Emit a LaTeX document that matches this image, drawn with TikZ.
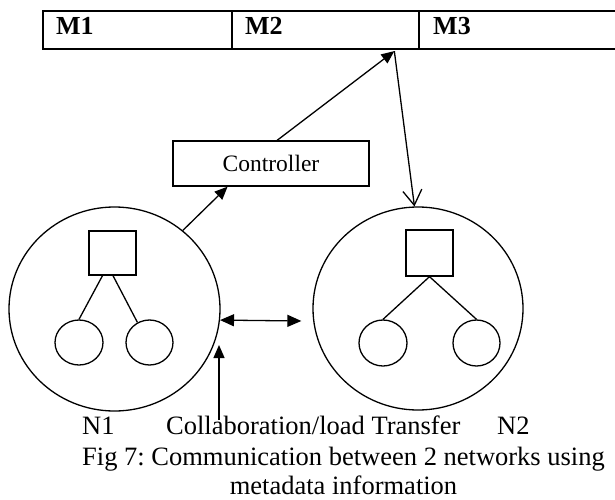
\documentclass[tikz,border=0pt]{standalone}
\usepackage{fontspec}
\setmainfont{Liberation Serif}
\usetikzlibrary{arrows.meta,shapes.geometric,calc}
\frenchspacing
\begin{document}
\begin{tikzpicture}[x=1pt,y=-1pt,
  cell/.style={draw,line width=1.6pt,minimum height=38pt,anchor=north west,inner sep=0pt},
  mlabel/.style={font=\bfseries\fontsize{26}{30}\selectfont,anchor=base west,inner sep=0pt},
  net/.style={draw,ellipse,line width=1.3pt,inner sep=0pt},
  hub/.style={draw,rectangle,line width=1.3pt,inner sep=0pt},
  leaf/.style={draw,ellipse,line width=1.3pt,inner sep=0pt},
  link/.style={line width=1.3pt},
  solidtip/.style={line width=1.3pt,-{Triangle[length=13pt,width=11pt]}},
  txt/.style={font=\fontsize{26.5}{30}\selectfont,inner sep=0pt,anchor=base west},
  captxt/.style={font=\fontsize{26.5}{30}\selectfont,inner sep=0pt,anchor=base}
]
\useasboundingbox (0,0) rectangle (615,500);
\clip (0,0) rectangle (615,500);
% metadata table
\node[cell,minimum width=189pt] (m1) at (42,10) {};
\node[cell,minimum width=187pt] (m2) at (231,10) {};
\node[cell,minimum width=240pt] (m3) at (418,10) {};
\node[mlabel] (l1) at (56,35) {M1};
\node[mlabel] (l2) at (245,35) {M2};
\node[mlabel] (l3) at (433,35) {M3};
% controller
\node[draw,line width=1.3pt,minimum width=196pt,minimum height=45pt,inner sep=0pt,
      font=\fontsize{23.5}{28}\selectfont] (ctrl) at (271,163.5) {Controller};
% networks
\node[net,minimum width=211pt,minimum height=204pt] (N1) at (114.5,309) {};
\node[net,minimum width=210pt,minimum height=203pt] (N2) at (418,308.5) {};
\node[hub,minimum width=47pt,minimum height=44pt] (s1) at (112.5,253) {};
\node[hub,minimum width=47pt,minimum height=46pt] (s2) at (429.5,253) {};
\node[leaf,minimum width=48pt,minimum height=45pt] (a1) at (79,342.5) {};
\node[leaf,minimum width=47pt,minimum height=45pt] (b1) at (149.5,342.5) {};
\node[leaf,minimum width=48pt,minimum height=46pt] (a2) at (383,343) {};
\node[leaf,minimum width=47pt,minimum height=46pt] (b2) at (476.5,343) {};
\draw[link] ($(s1.south)+(-10,0)$) -- (a1.north);
\draw[link] ($(s1.south)+(0.5,0)$) -- (b1.121);
\draw[link] (s2.south) -- (a2.north);
\draw[link] (s2.south) -- (b2.north);
% arrows
\coordinate (t) at ($(m2.south west)!0.866!(m2.south east)+(0,1.5)$);
\draw[solidtip] ($(ctrl.north west)!0.531!(ctrl.north east)$) -- (t);
\draw[line width=1.3pt,-{Straight Barb[length=15pt,width=19pt]}] (t) -- (N2.92);
\draw[solidtip] (N1.49.5) -- ($(ctrl.south west)!0.28!(ctrl.south east)$);
\draw[line width=1.3pt,{Triangle[length=14pt,width=12pt]}-{Triangle[length=14pt,width=12pt]}]
  (N1.-6.6) -- ($(N2.west)+(-11,12.5)$);
\coordinate (cb) at (219,420);
\coordinate (ch) at (219,345);
\draw[solidtip] (cb) -- (ch);
% labels
\node[txt] (n1l) at (82,434) {N1};
\node[txt] (cl) at (166,434) {Collaboration/load Transfer};
\node[txt] (n2l) at (497,434) {N2};
\node[captxt] (cap1) at (343.5,465) {Fig 7: Communication between 2 networks using};
\node[captxt] (cap2) at (343.5,494) {metadata information};
\end{tikzpicture}
\end{document}
